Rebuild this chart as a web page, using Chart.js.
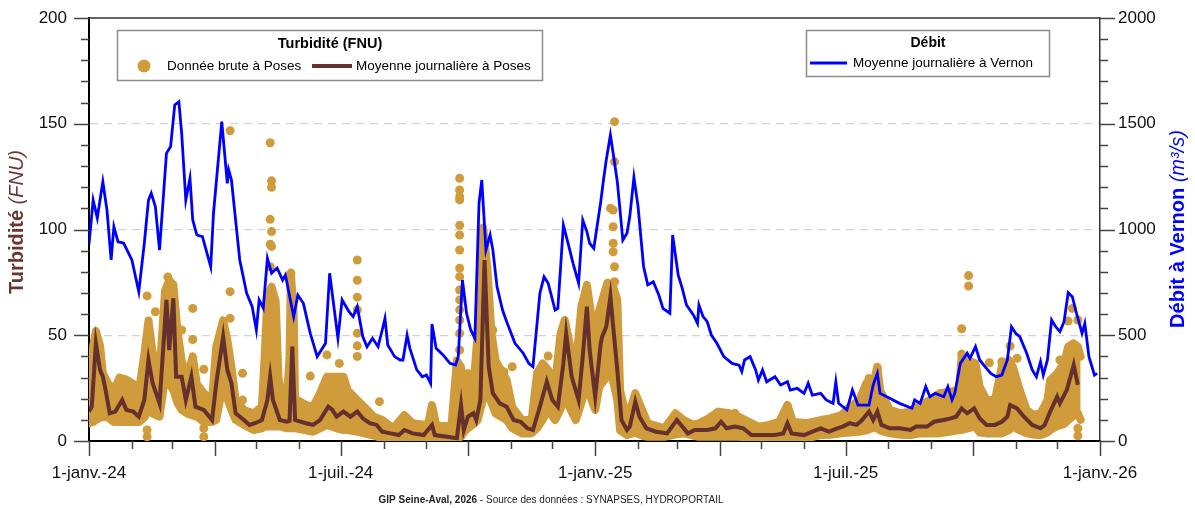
<!DOCTYPE html>
<html lang="fr">
<head>
<meta charset="utf-8">
<title>Turbidité et débit - Poses / Vernon</title>
<script src="https://cdn.jsdelivr.net/npm/chart.js@4.4.1/dist/chart.umd.min.js"></script>
<style>
  html, body { margin: 0; padding: 0; background: #fff; }
</style>
</head>
<body>
<canvas id="chart" width="1195" height="508"></canvas>
<script>
// jours comptés depuis le 1er janvier 2024
const xLabelDates = ['2024-01-01', '2024-07-01', '2025-01-01', '2025-07-01', '2026-01-01'];
const xLabels = ['1-janv.-24', '1-juil.-24', '1-janv.-25', '1-juil.-25', '1-janv.-26'];
const turbLabelTicks = [0, 50, 100, 150, 200];
const flowLabelTicks = [0, 500, 1000, 1500, 2000];

// Débit moyen journalier à Vernon (m3/s)
const flowDays = [
  0, 3, 6, 10, 13, 16, 18, 21, 25, 31,
  36, 40, 43, 45, 48, 51, 56, 59, 62, 65,
  67, 70, 73, 75, 78, 82, 88, 90, 96, 100,
  101, 103, 109, 114, 118, 121, 123, 126, 129, 132,
  136, 140, 142, 148, 151, 155, 160, 165, 171, 174,
  180, 183, 188, 191, 194, 198, 201, 205, 209, 212,
  214, 216, 221, 225, 227, 230, 232, 237, 241, 244,
  247, 248, 251, 256, 261, 265, 267, 270, 273, 276,
  279, 282, 284, 287, 290, 292, 295, 299, 302, 308,
  314, 318, 321, 326, 329, 332, 337, 339, 343, 347,
  350, 354, 357, 360, 362, 365, 370, 372, 374, 377,
  379, 382, 386, 389, 391, 394, 397, 401, 404, 408,
  412, 415, 420, 422, 426, 429, 432, 437, 440, 441,
  444, 447, 450, 454, 459, 465, 470, 472, 474, 478,
  482, 484, 487, 490, 496, 500, 505, 507, 512, 517,
  520, 523, 529, 533, 538, 540, 542, 548, 552, 556,
  564, 567, 570, 572, 579, 586, 595, 597, 601, 605,
  608, 612, 618, 621, 624, 626, 630, 635, 637, 641,
  644, 648, 652, 656, 660, 664, 667, 670, 673, 678,
  682, 685, 688, 690, 693, 696, 699, 702, 705, 708,
  711, 714, 718, 720, 723, 727, 729
];
const flowValues = [
  930, 1139, 1054, 1226, 1092, 856, 1013, 942, 936, 856,
  706, 936, 1139, 1172, 1108, 903, 1360, 1392, 1589, 1604,
  1455, 1139, 1242, 1045, 974, 966, 824, 1076, 1510, 1218,
  1281, 1234, 856, 698, 635, 525, 667, 629, 864, 794,
  818, 761, 785, 588, 690, 651, 509, 399, 462, 793,
  486, 667, 611, 588, 635, 493, 446, 486, 446, 525,
  580, 454, 399, 383, 383, 501, 438, 336, 304, 312,
  273, 553, 438, 407, 367, 359, 399, 761, 604, 525,
  486, 1124, 1234, 903, 974, 903, 730, 619, 564, 462,
  415, 367, 351, 698, 777, 746, 619, 627, 1021, 919,
  840, 746, 1045, 990, 935, 911, 1131, 1234, 1329, 1447,
  1360, 1226, 950, 982, 1061, 1247, 1108, 824, 738, 753,
  690, 627, 604, 974, 785, 720, 643, 596, 556, 643,
  588, 564, 501, 462, 399, 367, 359, 328, 383, 399,
  336, 288, 336, 280, 304, 265, 280, 241, 249, 225,
  273, 217, 225, 194, 178, 280, 178, 147, 241, 170,
  170, 265, 320, 225, 202, 178, 155, 194, 178, 257,
  209, 225, 209, 257, 194, 225, 367, 415, 391, 446,
  383, 351, 320, 304, 312, 383, 540, 509, 493, 415,
  336, 304, 375, 312, 383, 572, 540, 517, 564, 701,
  682, 604, 509, 556, 399, 312, 320
];

// Turbidité moyenne journalière à Poses (FNU)
const meanDays = [
  0, 2, 5, 8, 10, 12, 15, 19, 24, 27,
  32, 36, 40, 43, 46, 51, 56, 58, 61, 63,
  67, 70, 74, 77, 83, 89, 92, 97, 100, 103,
  106, 112, 116, 120, 125, 129, 131, 133, 138, 143,
  145, 147, 149, 157, 162, 167, 173, 176, 179, 184,
  189, 194, 198, 203, 208, 212, 218, 224, 228, 234,
  242, 248, 250, 259, 266, 269, 271, 274, 278, 280,
  283, 286, 289, 292, 297, 302, 307, 312, 317, 321,
  326, 331, 335, 339, 343, 345, 349, 354, 357, 360,
  362, 366, 370, 371, 374, 377, 379, 382, 385, 389,
  391, 395, 398, 403, 410, 418, 425, 429, 433, 438,
  447, 453, 457, 461, 467, 473, 479, 488, 496, 502,
  505, 508, 517, 523, 529, 535, 541, 545, 550, 555,
  559, 564, 567, 570, 573, 579, 586, 594, 598, 606,
  611, 618, 623, 627, 631, 635, 640, 644, 649, 655,
  660, 664, 666, 671, 676, 682, 688, 691, 695, 700,
  702, 707, 712, 715
];
const meanValues = [
  13.9, 16.2, 46.2, 33.6, 30.4, 24.1, 13.1, 13.9, 19.4, 14.7,
  13.9, 11.5, 19.4, 38.3, 27.3, 17.8, 66.7, 43, 67.5, 30.4,
  30.4, 19.4, 30.4, 16.2, 14.7, 9.9, 27.3, 49.3, 33.6, 27.3,
  13.1, 9.9, 7.6, 8.4, 9.9, 19.4, 30.4, 19.4, 9.9, 9.1,
  9.5, 44.6, 9.9, 8.4, 7.6, 9.9, 16.2, 14.7, 11.5, 13.9,
  11.5, 13.9, 10.7, 8.4, 7.6, 4.4, 3.6, 2.8, 5.2, 3.6,
  2.8, 7.6, 2.8, 2, 1.3, 17, 5.2, 11.5, 13.1, 9.9,
  19.4, 85.6, 35.1, 22.6, 17.8, 16.2, 9.9, 9.1, 6, 5.2,
  16.2, 28, 19.4, 16.2, 36.7, 50.9, 30.4, 19.4, 39.9, 63.5,
  43, 20.9, 46.2, 49.3, 54, 68.2, 54, 33.6, 9.9, 5.2,
  6.8, 18.6, 11.5, 6, 4.4, 3.6, 9.9, 6.8, 3.6, 5.2,
  5.2, 6, 9.1, 6, 6.8, 6, 2.8, 2.8, 2.8, 3.6,
  8.4, 3.6, 2.8, 4.4, 6, 4.4, 6, 6.8, 8.4, 7.6,
  9.9, 13.9, 9.9, 13.9, 7.6, 6, 6, 5.2, 6.8, 6.8,
  9.1, 9.9, 10.7, 11.5, 15.4, 13.1, 15.4, 10.7, 7.6, 7.6,
  9.1, 11.5, 17, 15.4, 11.5, 7.6, 6, 7.6, 13.9, 20.9,
  17.8, 24.1, 35.9, 26.5
];

// Données brutes à Poses : enveloppe du nuage dense (min / max)
const rawDays = [
  0, 3, 5, 8, 10, 14, 18, 22, 27, 32,
  36, 40, 43, 46, 51, 55, 58, 61, 64, 67,
  71, 75, 78, 83, 89, 92, 97, 100, 103, 106,
  112, 119, 125, 127, 129, 132, 135, 137, 139, 143,
  145, 146, 148, 149, 157, 162, 167, 172, 179, 184,
  187, 194, 199, 206, 212, 220, 228, 234, 245, 248,
  251, 262, 266, 269, 271, 274, 278, 281, 285, 288,
  291, 294, 302, 306, 313, 320, 324, 328, 332, 337,
  341, 344, 348, 352, 356, 360, 363, 366, 369, 374,
  377, 379, 382, 384, 389, 395, 400, 404, 416, 424,
  430, 437, 441, 448, 455, 463, 470, 477, 484, 492,
  499, 505, 509, 519, 529, 536, 544, 550, 557, 562,
  566, 570, 572, 579, 587, 594, 601, 608, 615, 623,
  629, 631, 635, 641, 644, 649, 655, 660, 665, 668,
  673, 678, 683, 688, 693, 695, 700, 705, 708, 712,
  715, 717
];
const rawLow = [
  8.4, 9, 10, 11, 11.5, 11, 9, 9, 9, 9,
  9, 11, 14.7, 13, 11.5, 30, 27, 24, 18, 14.7,
  13, 12, 11.5, 9, 9, 10, 27, 20, 14.7, 10,
  7.6, 5.2, 6, 6.8, 6.8, 6.8, 6.8, 6.8, 6.8, 6,
  6, 6, 6, 6, 5, 4.4, 6, 7.6, 6, 5.2,
  5.2, 4.4, 3.6, 2.5, 1.3, 1.3, 1, 0.5, 0.5, 0.5,
  0.5, 0.5, 1.5, 2, 4, 6, 8, 9.9, 20, 22.6,
  18, 13, 9.9, 6, 3.6, 3.6, 6, 10, 14.7, 9.9,
  15, 22.6, 15, 9.9, 18, 27.3, 20, 14.7, 25.7, 30,
  32, 28, 19.4, 5, 2.8, 4, 2.5, 2, 2, 3,
  3.6, 2.5, 2, 2, 2, 2, 2, 1.5, 1.3, 1.3,
  1.3, 2, 1.3, 1.3, 2.8, 3, 3.6, 4, 4.4, 5,
  6, 6, 5, 3.6, 3, 2.8, 3.6, 3.6, 3.6, 4.5,
  5.2, 5.2, 6, 6.8, 4, 3.6, 3.6, 3.6, 5, 6.8,
  5, 3.6, 3, 2.8, 4, 5.2, 7, 8, 9.9, 12,
  13.1, 10
];
const rawHigh = [
  27, 45, 52, 45, 32, 27, 24, 30, 29, 27,
  23, 41, 57, 42, 32, 71, 76, 74, 52, 38,
  30, 40, 27, 22.6, 19.4, 44.6, 57, 47.8, 35, 19.4,
  14.7, 13.1, 16.2, 40, 68, 73, 66, 30, 22.6, 19.4,
  40, 79, 60, 20, 17, 16.2, 22.6, 30.4, 30.4, 30.4,
  24, 19.4, 16.2, 11.5, 9.9, 6, 12.3, 8.4, 7.5, 17,
  7.6, 6.8, 38, 35, 19.4, 32, 25.7, 50.9, 101, 82,
  51, 38, 28.8, 16.2, 9.9, 9.9, 32, 36.7, 33.6, 27.3,
  50.9, 57.2, 44.6, 35.1, 63.5, 73.8, 60.4, 50.9, 62, 73,
  73, 73, 66.7, 24.1, 9.9, 22.6, 14.7, 8.4, 6, 13.1,
  9.9, 7.6, 8.4, 10.7, 13.9, 13.1, 11.5, 9.1, 6.8, 7.6,
  9.1, 17, 9.1, 8.4, 9.9, 10.7, 12.3, 16.2, 19.4, 27.3,
  24.1, 35.1, 24.1, 14.7, 13.1, 13.9, 17, 19.4, 22.6, 23.3,
  24.1, 39.9, 38.3, 36.7, 25.7, 19.4, 19.4, 35.1, 38.3, 35.1,
  24.1, 14.7, 12.3, 13.1, 19.4, 28.8, 32, 36.7, 44.6, 46.2,
  44.6, 39.9
];

// Données brutes isolées (hors du nuage dense)
const outlierDays = [
  42, 48, 42, 42, 57, 67, 75, 75, 83, 83,
  83, 102, 102, 102, 111, 111, 131, 132, 132, 131,
  132, 131, 132, 131, 146, 160, 172, 181, 194, 194,
  194, 194, 194, 194, 194, 210, 268, 268, 268, 268,
  268, 268, 268, 268, 268, 268, 268, 268, 268, 268,
  268, 292, 300, 306, 328, 332, 380, 380, 377, 379,
  379, 379, 379, 380, 380, 375, 467, 505, 564, 570,
  631, 631, 636, 636, 651, 651, 651, 660, 661, 661,
  666, 671, 702, 708, 711, 715, 715, 715
];
const outlierValues = [
  68.6, 61.1, 5.2, 2, 77.6, 52.5, 62.7, 48, 33.9, 6,
  2, 146.7, 70.6, 58, 32, 19.4, 141, 123, 120, 104.8,
  99, 93, 92, 82.4, 79.4, 30.7, 40.7, 36.7, 85.6, 76,
  68, 62, 51, 45, 40, 18.6, 124.2, 118.7, 115.5, 114,
  102, 97.4, 90.3, 81.7, 77.7, 71.4, 66.7, 62, 57.2, 50.9,
  43, 52.5, 32.8, 35.1, 35.1, 40.2, 151, 132, 110, 109.2,
  101.3, 93.5, 89.5, 82.4, 75.3, 74.6, 13.1, 16.5, 29.6, 34.4,
  53.1, 41.1, 78.2, 73.3, 37, 18.6, 13.9, 37.5, 28.8, 25.4,
  44.9, 39.1, 38.3, 56.7, 62.7, 57.2, 6, 2.5
];

const FONT = '"Liberation Sans", Arial, sans-serif';
const GOLD = '#cf9b3b';
const BROWN = '#66302d';
const BLUE = '#0000ff';

const DAY0 = Date.UTC(2024, 0, 1);
function dayOf(iso) {
  const p = iso.split('-').map(Number);
  return Math.round((Date.UTC(p[0], p[1] - 1, p[2]) - DAY0) / 86400000);
}
const xLabelDays = xLabelDates.map(dayOf);
const monthTicks = [];
for (let y = 2024; y <= 2025; y++) {
  for (let m = 0; m < 12; m++) monthTicks.push(Math.round((Date.UTC(y, m, 1) - DAY0) / 86400000));
}
monthTicks.push(dayOf('2026-01-01'));

function pairs(xs, ys) {
  return xs.map((x, i) => ({ x: x, y: ys[i] }));
}

function drawRich(ctx, parts, cx, cy) {
  let total = 0;
  parts.forEach(p => { ctx.font = p.font; p.w = ctx.measureText(p.text).width; total += p.w; });
  let x = cx - total / 2;
  ctx.textAlign = 'left';
  ctx.textBaseline = 'middle';
  parts.forEach(p => { ctx.font = p.font; ctx.fillText(p.text, x, cy); x += p.w; });
}

function line(ctx, x1, y1, x2, y2) {
  ctx.beginPath();
  ctx.moveTo(x1, y1);
  ctx.lineTo(x2, y2);
  ctx.stroke();
}

// largeur fixe des axes verticaux, sans marge ajoutée par les étiquettes
function fixWidth(w) {
  return s => { s.width = w; s.paddingTop = 0; s.paddingBottom = 0; };
}

const decorations = {
  id: 'decorations',
  afterDraw(chart) {
    const ctx = chart.ctx;
    const area = chart.chartArea;
    const sx = chart.scales.x, sy = chart.scales.y, sy2 = chart.scales.y2;
    ctx.save();

    // cadre haut
    ctx.strokeStyle = '#333';
    ctx.lineWidth = 1.5;
    line(ctx, area.left, area.top, area.right, area.top);

    // graduations
    ctx.strokeStyle = '#444';
    ctx.lineWidth = 1.5;
    monthTicks.forEach((d, i) => {
      const px = Math.round(sx.getPixelForValue(d)) + 0.5;
      line(ctx, px, area.bottom, px, area.bottom + (i % 3 === 0 ? 15 : 8));
    });
    for (let v = 0; v <= 200; v += 10) {
      const py = Math.round(sy.getPixelForValue(v)) + 0.5;
      line(ctx, area.left - (v % 50 === 0 ? 15 : 8), py, area.left, py);
    }
    for (let v = 0; v <= 2000; v += 100) {
      const py = Math.round(sy2.getPixelForValue(v)) + 0.5;
      line(ctx, area.right, py, area.right + (v % 500 === 0 ? 15 : 8), py);
    }

    // titres des axes
    ctx.save();
    ctx.translate(17, 222);
    ctx.rotate(-Math.PI / 2);
    ctx.fillStyle = '#6b3632';
    drawRich(ctx, [
      { text: 'Turbidité ', font: 'bold 20px ' + FONT },
      { text: '(FNU)', font: 'italic 20px ' + FONT }
    ], 0, 0);
    ctx.restore();

    ctx.save();
    ctx.translate(1178, 229);
    ctx.rotate(-Math.PI / 2);
    ctx.fillStyle = BLUE;
    drawRich(ctx, [
      { text: 'Débit à Vernon ', font: 'bold 20px ' + FONT },
      { text: '(m³/s)', font: 'italic 20px ' + FONT }
    ], 0, 0);
    ctx.restore();

    // légende turbidité
    ctx.fillStyle = '#fff';
    ctx.fillRect(117, 30, 426, 51);
    ctx.strokeStyle = '#8c8c8c';
    ctx.lineWidth = 1.5;
    ctx.strokeRect(117.5, 30.5, 425, 50);
    ctx.fillStyle = '#000';
    ctx.textAlign = 'center';
    ctx.textBaseline = 'middle';
    ctx.font = 'bold 14.5px ' + FONT;
    ctx.fillText('Turbidité (FNU)', 330, 44);
    ctx.fillStyle = GOLD;
    ctx.beginPath();
    ctx.arc(144, 66, 6.5, 0, Math.PI * 2);
    ctx.fill();
    ctx.strokeStyle = BROWN;
    ctx.lineWidth = 4;
    line(ctx, 312, 66, 352, 66);
    ctx.fillStyle = '#000';
    ctx.textAlign = 'left';
    ctx.font = '13.5px ' + FONT;
    ctx.fillText('Donnée brute à Poses', 167, 66);
    ctx.fillText('Moyenne journalière à Poses', 356, 66);

    // légende débit
    ctx.fillStyle = '#fff';
    ctx.fillRect(806, 30, 244, 47);
    ctx.strokeStyle = '#8c8c8c';
    ctx.lineWidth = 1.5;
    ctx.strokeRect(806.5, 30.5, 243, 46);
    ctx.fillStyle = '#000';
    ctx.textAlign = 'center';
    ctx.font = 'bold 14px ' + FONT;
    ctx.fillText('Débit', 928, 43);
    ctx.strokeStyle = BLUE;
    ctx.lineWidth = 3;
    line(ctx, 810, 63, 847, 63);
    ctx.textAlign = 'left';
    ctx.font = '13.5px ' + FONT;
    ctx.fillText('Moyenne journalière à Vernon', 853, 63);

    // source
    ctx.fillStyle = '#222';
    drawRich(ctx, [
      { text: 'GIP Seine-Aval, 2026', font: 'bold 10px ' + FONT },
      { text: ' - Source des données : SYNAPSES, HYDROPORTAIL', font: '10px ' + FONT }
    ], 551, 500);

    ctx.restore();
  }
};

new Chart(document.getElementById('chart'), {
  type: 'line',
  data: {
    datasets: [
      {
        label: 'Moyenne journalière à Vernon',
        data: pairs(flowDays, flowValues),
        yAxisID: 'y2',
        borderColor: BLUE,
        borderWidth: 2.8,
        pointRadius: 0,
        tension: 0,
        fill: false
      },
      {
        label: 'Moyenne journalière à Poses',
        data: pairs(meanDays, meanValues),
        yAxisID: 'y',
        borderColor: BROWN,
        borderWidth: 4,
        pointRadius: 0,
        tension: 0,
        fill: false
      },
      {
        label: 'Donnée brute à Poses',
        data: pairs(outlierDays, outlierValues),
        yAxisID: 'y',
        showLine: false,
        pointRadius: 4.5,
        pointBackgroundColor: GOLD,
        pointBorderWidth: 0,
        clip: 0
      },
      {
        label: 'Donnée brute max',
        data: pairs(rawDays, rawHigh),
        yAxisID: 'y',
        borderColor: GOLD,
        backgroundColor: GOLD,
        borderWidth: 8,
        borderJoinStyle: 'round',
        borderCapStyle: 'round',
        pointRadius: 0,
        tension: 0,
        fill: '+1',
        clip: 0
      },
      {
        label: 'Donnée brute min',
        data: pairs(rawDays, rawLow),
        yAxisID: 'y',
        borderColor: GOLD,
        borderWidth: 8,
        borderJoinStyle: 'round',
        borderCapStyle: 'round',
        pointRadius: 0,
        tension: 0,
        fill: false,
        clip: 0
      }
    ]
  },
  options: {
    responsive: false,
    animation: false,
    layout: { padding: { top: 18, left: 0, right: 0, bottom: 0 } },
    plugins: {
      legend: { display: false },
      tooltip: { enabled: false }
    },
    scales: {
      x: {
        type: 'linear',
        min: 0,
        max: 731,
        z: 1,
        afterBuildTicks: s => { s.ticks = monthTicks.map(v => ({ value: v })); },
        afterFit: s => { s.height = 67; },
        ticks: {
          autoSkip: false,
          maxRotation: 0,
          padding: 22,
          color: '#111',
          font: { family: FONT, size: 17 },
          callback: v => {
            const k = xLabelDays.indexOf(v);
            return k >= 0 ? xLabels[k] : '';
          }
        },
        grid: { display: false, drawTicks: false },
        border: { color: '#000', width: 2 }
      },
      y: {
        type: 'linear',
        position: 'left',
        min: 0,
        max: 200,
        afterFit: fixWidth(89),
        ticks: {
          stepSize: 10,
          autoSkip: false,
          padding: 22,
          color: '#111',
          font: { family: FONT, size: 17 },
          callback: v => turbLabelTicks.includes(v) ? v : ''
        },
        grid: {
          drawTicks: false,
          lineWidth: 1.2,
          color: c => (c.tick && c.tick.value % 50 === 0 && c.tick.value > 0 && c.tick.value < 200) ? '#d2d2d2' : 'rgba(0,0,0,0)'
        },
        border: { color: '#000', width: 2, dash: [8, 6] }
      },
      y2: {
        type: 'linear',
        position: 'right',
        min: 0,
        max: 2000,
        afterFit: fixWidth(95),
        ticks: {
          stepSize: 100,
          autoSkip: false,
          padding: 18,
          color: '#111',
          font: { family: FONT, size: 17 },
          callback: v => flowLabelTicks.includes(v) ? v : ''
        },
        grid: { display: false, drawTicks: false },
        border: { color: '#333', width: 1.5 }
      }
    }
  },
  plugins: [decorations]
});
</script>
</body>
</html>
